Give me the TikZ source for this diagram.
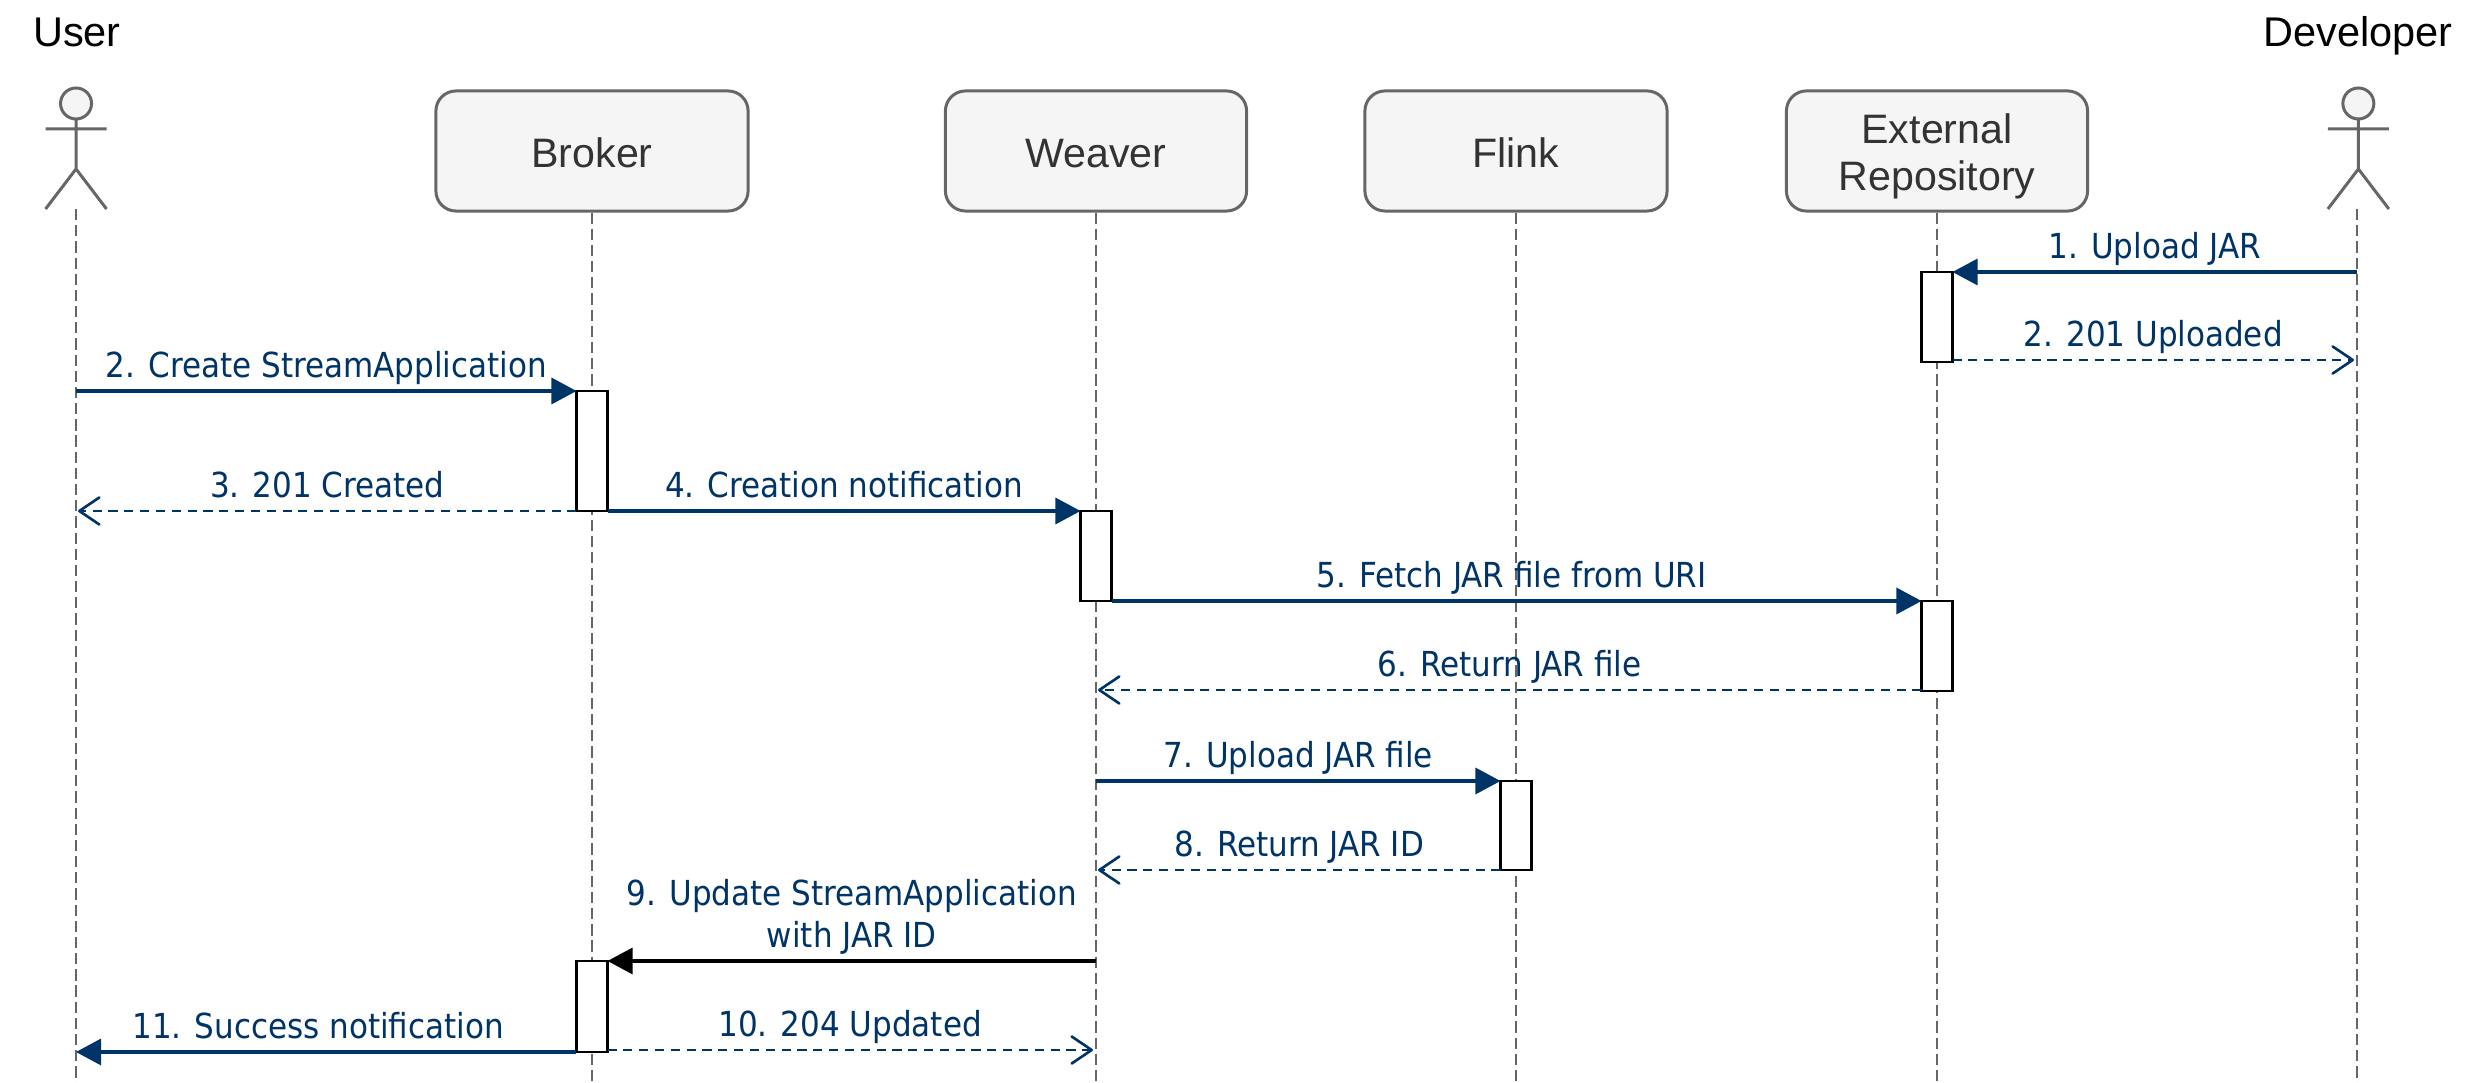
\documentclass[tikz,border=0pt]{standalone}
\usepackage{fontspec}
\setmainfont{Liberation Sans}
\newfontfamily\msgfont{DejaVu Sans Condensed}
\usetikzlibrary{arrows.meta, calc}
\definecolor{msgblue}{HTML}{003366}
\definecolor{boxgrey}{HTML}{666666}
\definecolor{boxfill}{HTML}{F5F5F5}
\tikzset{
  participant/.style={draw=boxgrey, fill=boxfill, rounded corners=0.2cm, line width=0.85pt,
    minimum width=3.06cm, minimum height=1.2cm, align=center, text=black!80, font=\fontsize{11.7}{13.4}\selectfont},
  actorname/.style={anchor=base, inner sep=0pt, font=\fontsize{11.8}{14}\selectfont},
  actorline/.style={draw=boxgrey, line width=0.85pt},
  lifeline/.style={draw=boxgrey, line width=0.7pt, dash pattern=on 3.2pt off 1.4pt},
  activation/.style={draw=black, fill=white, line width=0.8pt, minimum width=0.31cm, inner sep=0pt, outer sep=0pt, anchor=north},
  msg/.style={draw=msgblue, line width=0.9pt, -{Triangle[length=0.25cm,width=0.26cm,fill=msgblue]}},
  reply/.style={draw=msgblue, line width=0.8pt, dash pattern=on 2.6pt off 1.9pt, -{Straight Barb[length=0.2cm,width=0.27cm,line width=0.75pt,round]}},
  msglabel/.style={anchor=base, inner sep=0pt, yshift=0.135cm, text=msgblue, align=center, font=\msgfont\fontsize{9.8}{11.9}\selectfont},
}
\begin{document}
\begin{tikzpicture}[x=0.01cm, y=-0.01cm]
  \useasboundingbox (0,0) rectangle (2478,1083);
  % lifeline ends and message heights
  \coordinate (bottom) at (0,1083);
  \coordinate (user) at (76,209);
  \coordinate (dev) at (2357,209);
  \coordinate (m1) at (0,272); \coordinate (m2) at (0,360);
  \coordinate (m3) at (0,391); \coordinate (m4) at (0,511);
  \coordinate (m5) at (0,601); \coordinate (m6) at (0,690);
  \coordinate (m7) at (0,781); \coordinate (m8) at (0,870);
  \coordinate (m9) at (0,961); \coordinate (m10) at (0,1050);
  \coordinate (m11) at (0,1052);
  % participants
  \node[participant, minimum width=3.12cm] (broker) at (592,151) {\rule{0pt}{0.34cm}Broker};
  \node[participant, minimum width=3.01cm] (weaver) at (1096,151) {\rule{0pt}{0.34cm}Weaver};
  \node[participant, minimum width=3.02cm] (flink) at (1516,151) {\rule{0pt}{0.34cm}Flink};
  \node[participant, minimum width=3.01cm] (repo) at (1937,151) {\rule{0pt}{0.41cm}External\\Repository};
  % actors
  \node[actorname] (username) at (77,47) {User};
  \node[actorname] (devname) at (2358,47) {Developer};
  \begin{scope}[xshift=0.76cm]
    \draw[actorline, fill=boxfill] (0,103.5) ellipse (15.5 and 15.5);
    \draw[actorline] (0,119) -- (0,169) (-30.5,129) -- (30.5,129) (-30.5,209) -- (0,169) -- (30.5,209);
  \end{scope}
  \begin{scope}[xshift=23.57cm]
    \draw[actorline, fill=boxfill] (0,103.5) ellipse (15.5 and 15.5);
    \draw[actorline] (0,119) -- (0,169) (-30.5,129) -- (30.5,129) (-30.5,209) -- (0,169) -- (30.5,209);
  \end{scope}
  % lifelines
  \draw[lifeline] (user) -- (user |- bottom);
  \draw[lifeline] (broker.south) -- (broker |- bottom);
  \draw[lifeline] (weaver.south) -- (weaver |- bottom);
  \draw[lifeline] (flink.south) -- (flink |- bottom);
  \draw[lifeline] (repo.south) -- (repo |- bottom);
  \draw[lifeline] (dev) -- (dev |- bottom);
  % activations
  \node[activation, minimum height=0.9cm] (repoA) at (repo |- m1) {};
  \node[activation, minimum height=1.2cm] (brokerA) at (broker |- m3) {};
  \node[activation, minimum height=0.9cm] (weaverA) at (weaver |- m4) {};
  \node[activation, minimum height=0.9cm] (repoB) at (repo |- m5) {};
  \node[activation, minimum height=0.89cm] (flinkA) at (flink |- m7) {};
  \node[activation, minimum height=0.91cm] (brokerB) at (broker |- m9) {};
  % messages
  \draw[msg] (dev |- m1) -- node[msglabel] (l1) {1. Upload JAR} (repoA.north east);
  \draw[reply] (repoA.east |- m2) -- node[msglabel] (l2) {2. 201 Uploaded} ([xshift=-0.03cm]dev |- m2);
  \draw[msg] (user |- m3) -- node[msglabel] (l3) {2. Create StreamApplication} (brokerA.north west);
  \draw[reply] (brokerA.west |- m4) -- node[msglabel] (l4) {3. 201 Created} ([xshift=0.02cm]user |- m4);
  \draw[msg] (brokerA.east |- m4) -- node[msglabel] (l5) {4. Creation notification} (weaverA.north west);
  \draw[msg] (weaverA.east |- m5) -- node[msglabel, xshift=-0.05cm] (l6) {5. Fetch JAR file from URI} (repoB.north west);
  \draw[reply] (repoB.west |- m6) -- node[msglabel] (l7) {6. Return JAR file} ([xshift=0.02cm]weaver |- m6);
  \draw[msg] (weaver |- m7) -- node[msglabel] (l8) {7. Upload JAR file} (flinkA.north west);
  \draw[reply] (flinkA.west |- m8) -- node[msglabel] (l9) {8. Return JAR ID} ([xshift=0.02cm]weaver |- m8);
  \draw[msg, draw=black, -{Triangle[length=0.25cm,width=0.26cm,fill=black]}] (weaver |- m9) -- node[msglabel] (l10) {9. Update StreamApplication\\with JAR ID} (brokerB.north east);
  \draw[reply] (brokerB.east |- m10) -- node[msglabel] (l11) {10. 204 Updated} ([xshift=-0.03cm]weaver |- m10);
  \draw[msg] (brokerB.west |- m11) -- node[msglabel, xshift=-0.08cm] (l12) {11. Success notification} (user |- m11);
\end{tikzpicture}
\end{document}
